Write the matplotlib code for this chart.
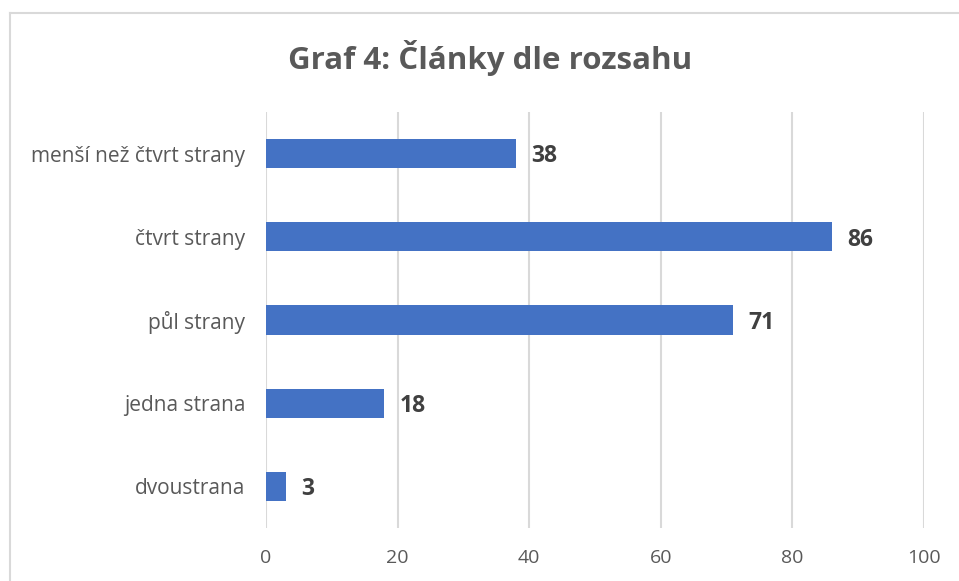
import matplotlib.pyplot as plt
from matplotlib.lines import Line2D

CATEGORIES = ["menší než čtvrt strany", "čtvrt strany", "půl strany", "jedna strana", "dvoustrana"]
VALUES = [38, 86, 71, 18, 3]
X_TICKS = [0, 20, 40, 60, 80, 100]

BAR_COLOR = "#4472C4"
GRID_COLOR = "#D9D9D9"
TEXT_COLOR = "#595959"


def main():
    plt.rcParams["font.family"] = ["Open Sans", "DejaVu Sans"]
    fig = plt.figure(figsize=(9.59, 5.81), dpi=100)
    ax = fig.add_axes([0.2774, 0.0912, 0.6861, 0.716])

    pos = list(range(len(CATEGORIES)))
    ax.barh(pos, VALUES, height=0.35, color=BAR_COLOR, zorder=3)
    for y, v in zip(pos, VALUES):
        ax.annotate(str(v), (v, y), xytext=(11, -2), textcoords="offset points",
                    va="center", ha="left", fontsize=16.5, fontweight="bold",
                    color="#404040")

    ax.set_ylim(len(CATEGORIES) - 0.5, -0.5)
    ax.set_xlim(0, 100)
    ax.set_xticks(X_TICKS)
    ax.set_yticks(pos)
    ax.set_yticklabels(CATEGORIES)
    ax.tick_params(axis="both", length=0, labelsize=15, colors=TEXT_COLOR)
    ax.tick_params(axis="y", pad=15)
    ax.tick_params(axis="x", labelsize=14, pad=15)
    ax.grid(axis="x", color=GRID_COLOR, linewidth=1.5, zorder=0)
    for spine in ax.spines.values():
        spine.set_visible(False)

    fig.text(0.511, 0.9, "Graf 4: Články dle rozsahu", ha="center", va="center",
             fontsize=22.5, fontweight="bold", color=TEXT_COLOR)

    # chart frame (only top and left edges are visible in the crop)
    fig.add_artist(Line2D([0.0105, 1.0], [0.978, 0.978], color=GRID_COLOR,
                          linewidth=1.5, transform=fig.transFigure))
    fig.add_artist(Line2D([0.0105, 0.0105], [0.0, 0.978], color=GRID_COLOR,
                          linewidth=1.5, transform=fig.transFigure))

    fig.savefig("out.png", dpi=100, facecolor="white")


if __name__ == "__main__":
    main()
